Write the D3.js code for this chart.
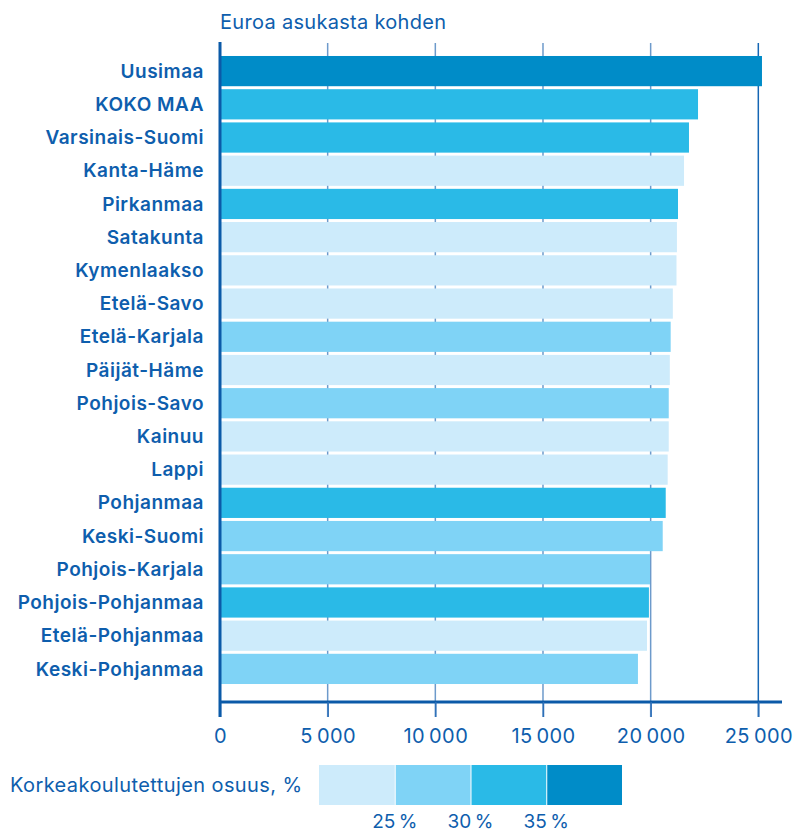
<!DOCTYPE html>
<html>
<head>
  <meta charset="utf-8">
  <title>Euroa asukasta kohden</title>
  <style>
    body { margin: 0; background: #fff; }
    text { font-family: Inter, "Noto Sans", sans-serif; fill: #0e5ead; }
    .cat { font-weight: 600; font-size: 19px; letter-spacing: 0.5px; }
  </style>
  <script src="https://cdn.jsdelivr.net/npm/d3@7"></script>
</head>
<body>
<script>
// regions, top to bottom
var regions = ["Uusimaa", "KOKO MAA", "Varsinais-Suomi", "Kanta-Häme", "Pirkanmaa",
  "Satakunta", "Kymenlaakso", "Etelä-Savo", "Etelä-Karjala", "Päijät-Häme",
  "Pohjois-Savo", "Kainuu", "Lappi", "Pohjanmaa", "Keski-Suomi",
  "Pohjois-Karjala", "Pohjois-Pohjanmaa", "Etelä-Pohjanmaa", "Keski-Pohjanmaa"];

// euros per inhabitant
var euros = [25170, 22200, 21780, 21550, 21270,
  21220, 21200, 21030, 20930, 20890,
  20840, 20840, 20790, 20700, 20560,
  19970, 19920, 19830, 19410];

// share of higher educated, class: 0 = <25 %, 1 = 25-30 %, 2 = 30-35 %, 3 = >35 %
var shareClass = [3, 2, 2, 0, 2,
  0, 0, 0, 1, 0,
  1, 0, 0, 2, 1,
  1, 2, 0, 1];

var classColors = ["#cdebfb", "#7fd3f6", "#2abae7", "#008cc8"];
var legendTicks = ["25\u2009%", "30\u2009%", "35\u2009%"];
var xTicks = [0, 5000, 10000, 15000, 20000, 25000];

var W = 797, H = 832;
var dark = "#0b5aa8";

var svg = d3.select("body").append("svg")
  .attr("width", W)
  .attr("height", H);

var x = d3.scaleLinear().domain([0, 26100]).range([220, 782]);
var y = d3.scaleBand().domain(regions).range([53, 687]).padding(0.09);

var fmt = d3.formatLocale({ decimal: ",", thousands: "\u2009", grouping: [3], currency: ["", " €"] }).format(",d");

// title
svg.append("text")
  .attr("x", 220)
  .attr("y", 29)
  .style("font-size", "20px")
  .style("letter-spacing", "0.3px")
  .text("Euroa asukasta kohden");

// grid lines
svg.selectAll(".grid")
  .data(xTicks.slice(1))
  .enter().append("line")
  .attr("class", "grid")
  .attr("x1", function(d) { return x(d); })
  .attr("x2", function(d) { return x(d); })
  .attr("y1", 43)
  .attr("y2", 717)
  .attr("stroke", function(d) { return d === 25000 ? "#1566b4" : "#6d9acb"; })
  .attr("stroke-width", 1.5);

// bars
svg.selectAll(".bar")
  .data(regions)
  .enter().append("rect")
  .attr("class", "bar")
  .attr("x", x(0))
  .attr("y", function(d) { return y(d); })
  .attr("width", function(d, i) { return x(euros[i]) - x(0); })
  .attr("height", y.bandwidth())
  .attr("fill", function(d, i) { return classColors[shareClass[i]]; });

// category labels
svg.selectAll(".cat")
  .data(regions)
  .enter().append("text")
  .attr("class", "cat")
  .attr("x", 204)
  .attr("y", function(d) { return y(d) + y.bandwidth() / 2; })
  .attr("dy", "0.35em")
  .attr("text-anchor", "end")
  .text(function(d) { return d; });

// x axis
var xAxis = svg.append("g")
  .attr("transform", "translate(0,702)")
  .call(d3.axisBottom(x).tickValues(xTicks).tickSize(15).tickFormat(fmt));
xAxis.select(".domain")
  .attr("d", "M" + x(0) + ",0H" + x.range()[1])
  .attr("stroke", dark)
  .attr("stroke-width", 3);
xAxis.selectAll(".tick line").attr("stroke", "#2d6fb8").attr("stroke-width", 1.5);
xAxis.selectAll(".tick text")
  .attr("y", 27)
  .style("font-size", "20px")
  .style("letter-spacing", "0.4px")
  .style("font-family", "Inter, sans-serif")
  .attr("fill", "#0e5ead");

// left axis line
svg.append("line")
  .attr("x1", x(0)).attr("x2", x(0))
  .attr("y1", 42).attr("y2", 717)
  .attr("stroke", dark)
  .attr("stroke-width", 3);

// legend
svg.append("text")
  .attr("x", 10)
  .attr("y", 792)
  .style("font-size", "20px")
  .style("letter-spacing", "0.4px")
  .text("Korkeakoulutettujen osuus, %");

var lx = d3.scaleLinear().domain([0, 4]).range([319, 622]);
svg.selectAll(".leg")
  .data(classColors)
  .enter().append("rect")
  .attr("class", "leg")
  .attr("x", function(d, i) { return lx(i) + (i > 0 ? 1 : 0); })
  .attr("y", 765)
  .attr("width", function(d, i) { return lx(i + 1) - lx(i) - (i > 0 ? 1 : 0); })
  .attr("height", 40)
  .attr("fill", function(d) { return d; });

svg.selectAll(".legt")
  .data(legendTicks)
  .enter().append("text")
  .attr("class", "legt")
  .attr("x", function(d, i) { return lx(i + 1); })
  .attr("y", 828)
  .attr("text-anchor", "middle")
  .style("font-size", "19px")
  .text(function(d) { return d; });
</script>
</body>
</html>
